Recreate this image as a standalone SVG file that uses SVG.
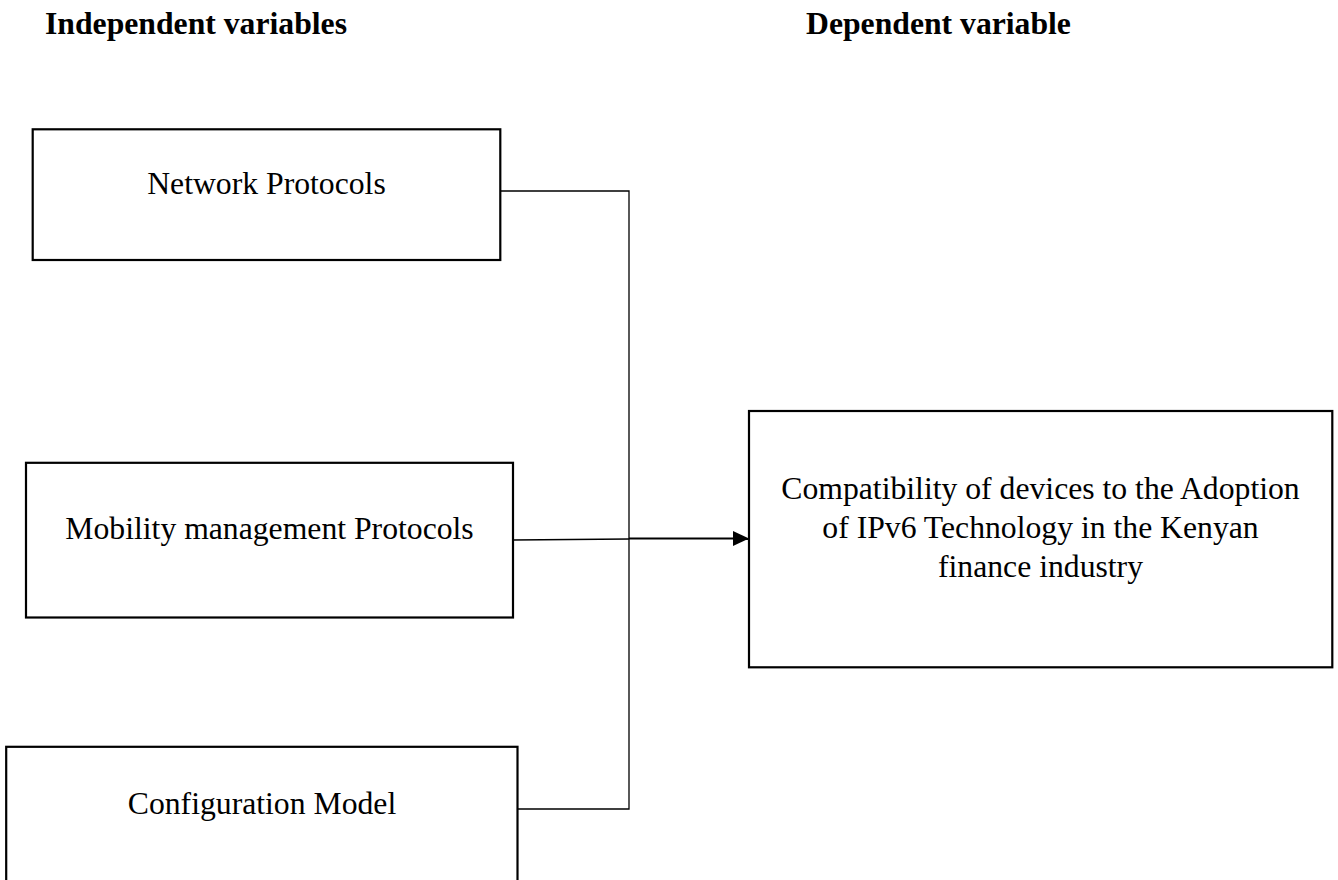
<svg xmlns="http://www.w3.org/2000/svg" width="1338" height="880" viewBox="0 0 1338 880">
<style>
.box{fill:#fff;stroke:#000;stroke-width:2.2}
.t{font-family:"Liberation Serif","Times New Roman",serif;font-size:31.7px;fill:#000;text-anchor:middle}
.h{font-family:"Liberation Serif","Times New Roman",serif;font-size:31.7px;font-weight:bold;fill:#000}
.c{fill:none;stroke:#000;stroke-width:1.3}
</style>
<rect width="1338" height="880" fill="#fff"/>
<g id="headers">
<text class="h" x="45" y="34">Independent variables</text>
<text class="h" x="806" y="34">Dependent variable</text>
</g>
<g id="connectors">
<polyline class="c" points="501,191 629,191 629,809 514,809"/>
<line class="c" x1="513" y1="540" x2="629" y2="539"/>
<line x1="629" y1="538.5" x2="736" y2="538.5" stroke="#000" stroke-width="2.2"/>
<line x1="735" y1="539.5" x2="757" y2="539.5" stroke="#000" stroke-width="1"/>
<polygon points="733,531 749,538.5 733,546" fill="#000"/>
</g>
<g id="network-protocols">
<rect class="box" x="32.7" y="129.3" width="467.6" height="130.7"/>
<text class="t" x="266.5" y="194">Network Protocols</text>
</g>
<g id="mobility-management">
<rect class="box" x="26" y="462.8" width="487" height="154.7"/>
<text class="t" x="269.5" y="539">Mobility management Protocols</text>
</g>
<g id="configuration-model">
<rect class="box" x="6.2" y="746.8" width="511.3" height="150"/>
<text class="t" x="262" y="814">Configuration Model</text>
</g>
<g id="compatibility">
<rect class="box" x="749" y="411" width="583.3" height="256.3"/>
<text class="t" x="1040.5" y="499">Compatibility of devices to the Adoption</text>
<text class="t" x="1040.5" y="538">of IPv6 Technology in the Kenyan</text>
<text class="t" x="1040.5" y="577">finance industry</text>
</g>
</svg>
